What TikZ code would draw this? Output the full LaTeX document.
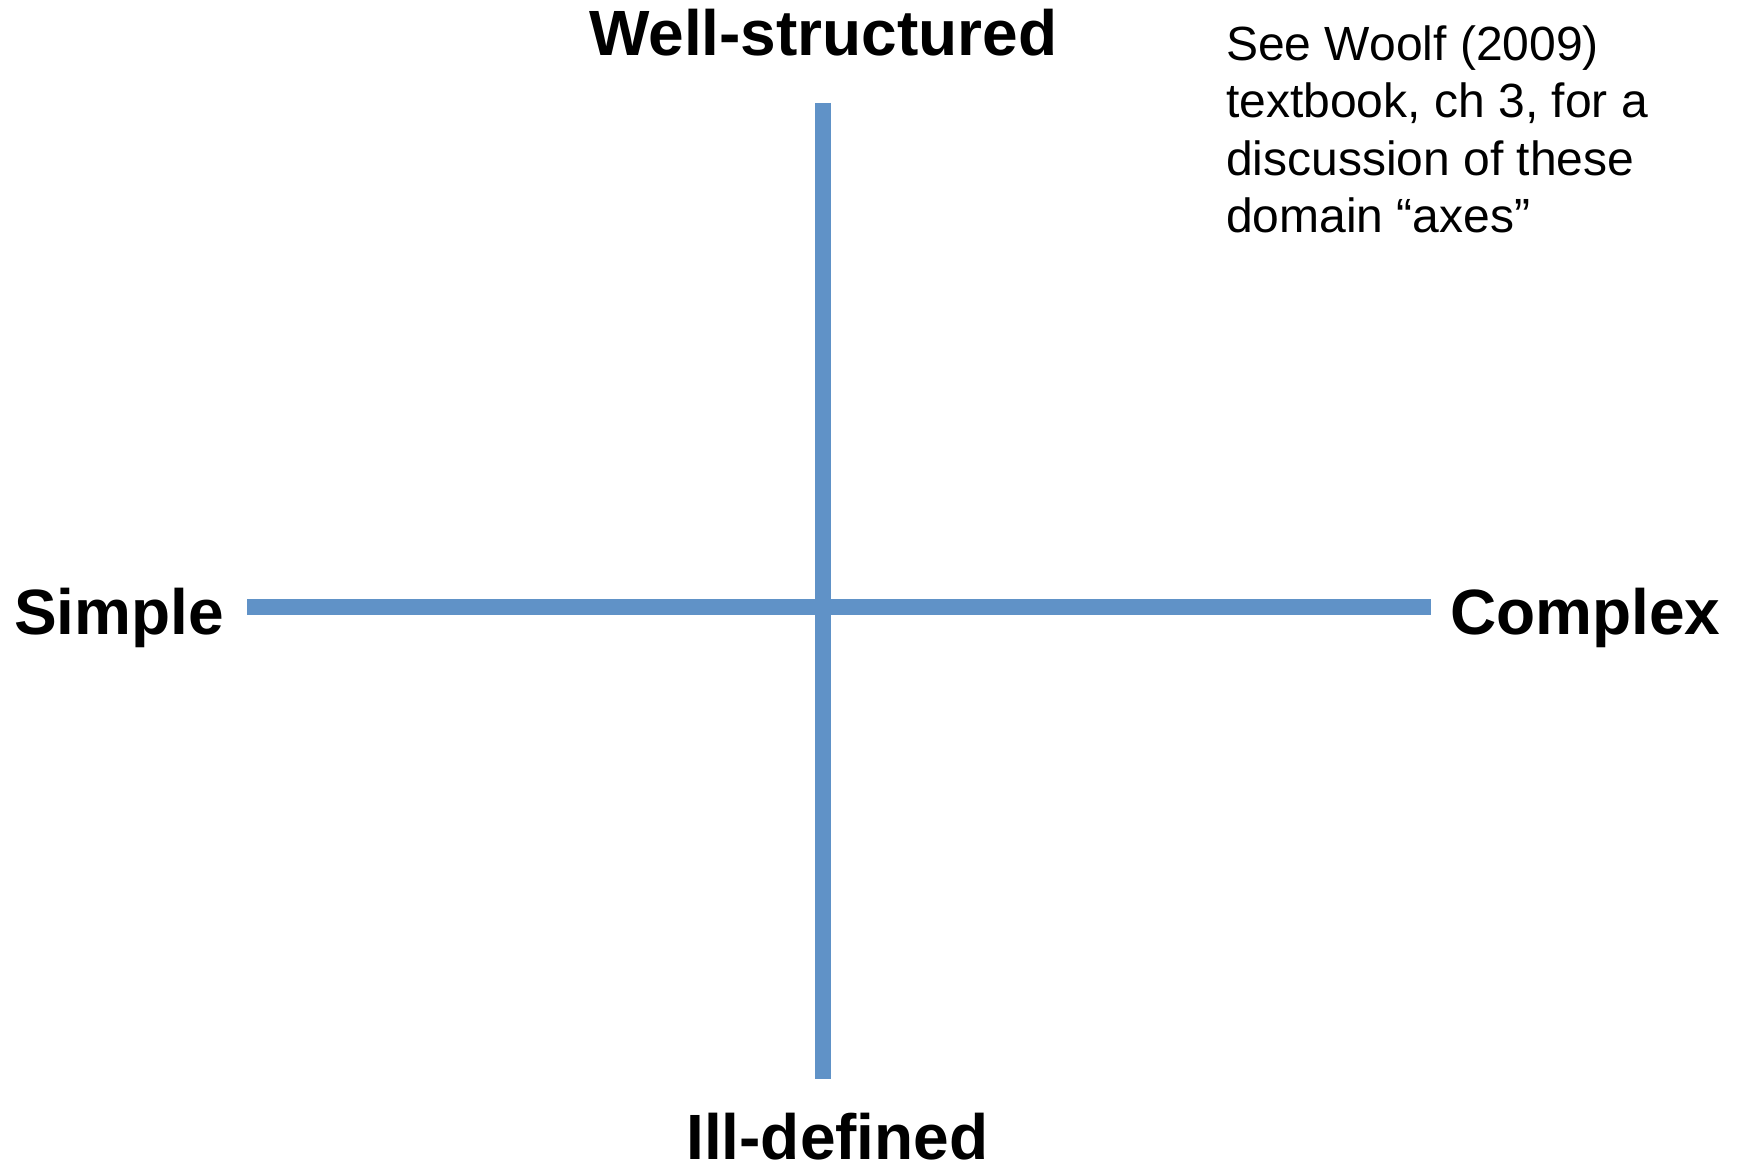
\documentclass[tikz,border=0pt]{standalone}
\usepackage{fontspec}
\setmainfont{Liberation Sans}
\definecolor{axisblue}{RGB}{96,146,199}
\begin{document}
\begin{tikzpicture}[x=1pt,y=-1pt,
  axislabel/.style={inner sep=0pt, anchor=base west, font=\fontsize{64}{70}\selectfont\bfseries},
  note/.style={inner sep=0pt, anchor=base west, align=left, font=\fontsize{48}{57.5}\selectfont},
  axisline/.style={draw=axisblue, line width=15.5pt}]
\useasboundingbox (0,0) rectangle (1740,1166);
% axis end points
\coordinate (top) at (823,103);
\coordinate (bottom) at (823,1079);
\coordinate (left) at (247,607);
\coordinate (right) at (1431,607);
% the two axes
\draw[axisline] (top) -- (bottom);
\draw[axisline] (left) -- (right);
% axis labels
\node[axislabel] (well) at (589,56) {Well-structured};
\node[axislabel] (ill) at (686,1159) {Ill-defined};
\node[axislabel] (simple) at (14,634) {Simple};
\node[axislabel] (complex) at (1450,634) {Complex};
% reference note (anchored on the baseline of its last line)
\node[note] (ref) at (1226,233) {See Woolf (2009)\\textbook, ch 3, for a\\discussion of these\\domain “axes”};
\end{tikzpicture}
\end{document}
